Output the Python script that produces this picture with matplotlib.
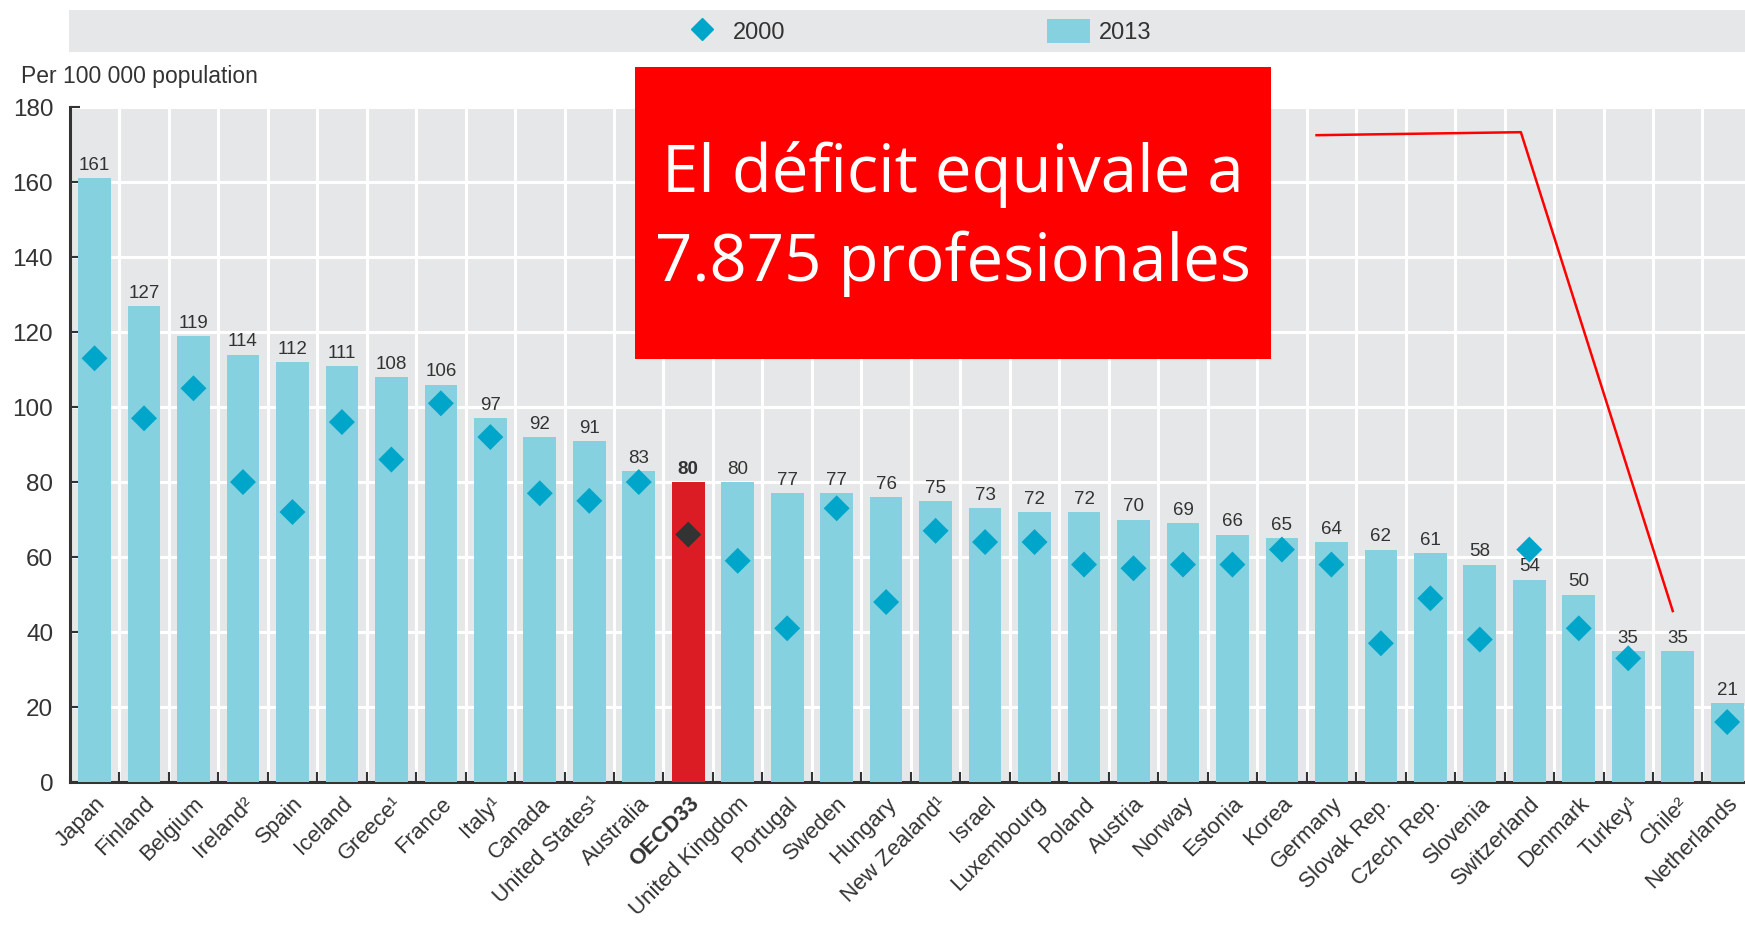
import numpy as np
import matplotlib
matplotlib.use("Agg")
import matplotlib.pyplot as plt
from matplotlib.patches import Rectangle
from matplotlib.lines import Line2D
from matplotlib.patches import Patch

plt.rcParams['font.family'] = ['Liberation Sans Narrow', 'Liberation Sans', 'DejaVu Sans']

countries = ["Japan", "Finland", "Belgium", "Ireland²", "Spain", "Iceland", "Greece¹", "France",
             "Italy¹", "Canada", "United States¹", "Australia", "OECD33", "United Kingdom",
             "Portugal", "Sweden", "Hungary", "New Zealand¹", "Israel", "Luxembourg", "Poland",
             "Austria", "Norway", "Estonia", "Korea", "Germany", "Slovak Rep.", "Czech Rep.",
             "Slovenia", "Switzerland", "Denmark", "Turkey¹", "Chile²", "Netherlands"]
val_2013 = [161, 127, 119, 114, 112, 111, 108, 106, 97, 92, 91, 83, 80, 80, 77, 77, 76, 75,
            73, 72, 72, 70, 69, 66, 65, 64, 62, 61, 58, 54, 50, 35, 35, 21]
val_2000 = [113, 97, 105, 80, 72, 96, 86, 101, 92, 77, 75, 80, 66, 59, 41, 73, 48, 67,
            64, 64, 58, 57, 58, 58, 62, 58, 37, 49, 38, 62, 41, 33, np.nan, 16]
highlight = "OECD33"
yticks = list(range(0, 181, 20))

bar_col = "#86d1e0"
dia_col = "#00a6ca"
red_col = "#dc1c24"
dark = "#333333"
bg = "#e6e7e8"

fig = plt.figure(figsize=(17.45, 9.31), dpi=100)
ax = fig.add_axes([0.040, 0.160, 0.960, 0.725])
ax.set_facecolor(bg)

x = np.arange(len(countries))
hi = countries.index(highlight)
colors = [red_col if c == highlight else bar_col for c in countries]
bars = ax.bar(x, val_2013, width=0.66, color=colors, zorder=3)

mcols = [dark if c == highlight else dia_col for c in countries]
ax.scatter(x, val_2000, marker="D", s=175, c=mcols, zorder=4, linewidths=0)

labels = ax.bar_label(bars, labels=[str(v) for v in val_2013], padding=3, fontsize=13.5, color=dark)
labels[hi].set_fontweight("bold")

ax.set_xlim(-0.5, 33.36)
ax.set_ylim(0, 180)
ax.set_yticks(yticks)
ax.set_xticks(x)
ax.set_xticks(x[:-1] + 0.5, minor=True)
ax.set_xticklabels(countries, rotation=45, ha="right", rotation_mode="anchor", fontsize=16, color=dark)
for lab in ax.get_xticklabels():
    if lab.get_text() == highlight:
        lab.set_fontweight("bold")
ax.tick_params(axis="x", which="major", length=0, pad=8)
ax.tick_params(axis="x", which="minor", direction="in", length=7, width=1.5, color=dark)
ax.tick_params(axis="y", direction="in", length=7, width=1.5, color=dark, labelsize=17.5, labelcolor=dark, pad=12)

ax.grid(axis="y", which="major", color="white", linewidth=2.2, zorder=1)
ax.grid(axis="x", which="minor", color="white", linewidth=2.2, zorder=1)
ax.set_axisbelow(True)
for s in ["top", "right"]:
    ax.spines[s].set_visible(False)
for s in ["left", "bottom"]:
    ax.spines[s].set_color(dark)
    ax.spines[s].set_linewidth(2.2)

fig.text(0.012, 0.918, "Per 100 000 population", fontsize=16.5, color=dark, va="center")

# legend band
fig.patches.append(Rectangle((0.0395, 0.944), 0.9605, 0.045, transform=fig.transFigure,
                             facecolor=bg, edgecolor="none", zorder=0))
handles = [Line2D([], [], marker="D", linestyle="none", color=dia_col, markersize=11),
           Patch(facecolor=bar_col, edgecolor="none")]
fig.legend(handles, ["2000", "2013"], loc="center", bbox_to_anchor=(0.525, 0.966), ncol=2,
           frameon=False, fontsize=17, columnspacing=11.1, handlelength=1.8, handleheight=1.2,
           handletextpad=0.4, labelcolor=dark)

# annotation overlay
fig.patches.append(Rectangle((0.364, 0.614), 0.3645, 0.3136, transform=fig.transFigure,
                             facecolor="#ff0000", edgecolor="none", zorder=5))
fig.text(0.5463, 0.765, "El déficit equivale a\n7.875 profesionales", color="white",
         fontsize=47, family="Open Sans", ha="center", va="center", linespacing=1.45, zorder=6)
ax.plot([24.7, 28.83, 31.9], [172.5, 173.3, 45.6], color="#ff0000", linewidth=1.8,
        clip_on=False, zorder=6)

fig.savefig("out.png", dpi=100)
